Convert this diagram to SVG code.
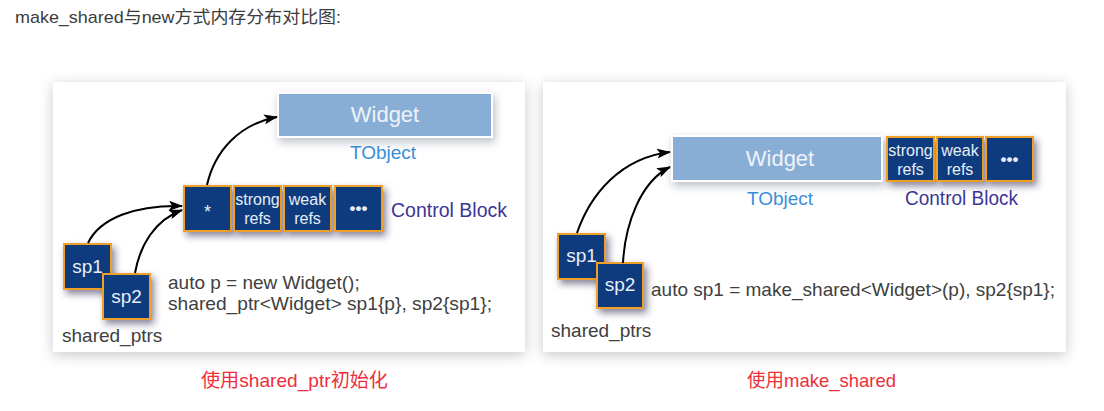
<svg xmlns="http://www.w3.org/2000/svg" width="1104" height="411" viewBox="0 0 1104 411">
<defs>
<filter id="panelShadow" x="-10%" y="-15%" width="120%" height="130%">
<feDropShadow dx="0" dy="3" stdDeviation="7" flood-color="#000" flood-opacity="0.22"/>
</filter>
<filter id="boxShadow" x="-30%" y="-30%" width="170%" height="170%">
<feDropShadow dx="3" dy="4" stdDeviation="3.5" flood-color="#2a1a4a" flood-opacity="0.55"/>
</filter>
<filter id="widgetShadow" x="-20%" y="-40%" width="140%" height="190%">
<feDropShadow dx="2" dy="4" stdDeviation="4" flood-color="#203050" flood-opacity="0.3"/>
</filter>
<marker id="arrow" viewBox="0 0 14 10" refX="13" refY="5" markerWidth="14" markerHeight="10" markerUnits="userSpaceOnUse" orient="auto">
<path d="M0,0 L14,5 L0,10 L3,5 Z" fill="#000"/>
</marker>
</defs>
<style>
text{font-family:"Liberation Sans","Noto Sans CJK SC",sans-serif}
.panel{fill:#fff;filter:url(#panelShadow)}
.cell{fill:#0b3a7e;stroke:#f0a028;stroke-width:2;filter:url(#boxShadow)}
.widget{fill:#89aed6;stroke:#fff;stroke-width:2;filter:url(#widgetShadow)}
.wt{fill:#eef3fa;font-size:22px;text-anchor:middle}
.ct{fill:#e8eef8;text-anchor:middle}
.lbl{fill:#3a8ed8;font-size:19px;text-anchor:middle}
.cb{fill:#3c3596;font-size:20px}
.code{fill:#404040;font-size:19px}
.sp{fill:#404040;font-size:19px}
.cap{fill:#ee2e3a;font-size:19px}
.conn path{fill:none;stroke:#000;stroke-width:2;marker-end:url(#arrow)}
</style>
<rect width="1104" height="411" fill="#fff"/>
<text x="15" y="23" textLength="326" lengthAdjust="spacingAndGlyphs" style="fill:#3c3c3c;font-size:17px">make_shared与new方式内存分布对比图:</text>

<g id="panel-left">
<rect class="panel" x="53" y="82" width="472" height="270"/>
</g>
<g id="panel-right">
<rect class="panel" x="543" y="82" width="523" height="270"/>
</g>

<!-- Left diagram -->
<g id="left-widget">
<rect class="widget" x="278" y="93" width="214" height="44"/>
<text class="wt" x="385" y="122">Widget</text>
<text class="lbl" x="383" y="159">TObject</text>
</g>
<g id="left-ptr">
<rect class="cell" x="184" y="186" width="47" height="45"/>
<text class="ct" x="207.5" y="218" style="font-size:18px">*</text>
</g>
<g id="left-strong">
<rect class="cell" x="234" y="186" width="47" height="45"/>
<text class="ct" x="257.5" y="205" style="font-size:16px">strong</text>
<text class="ct" x="257.5" y="224" style="font-size:16px">refs</text>
</g>
<g id="left-weak">
<rect class="cell" x="284" y="186" width="47" height="45"/>
<text class="ct" x="307.5" y="205" style="font-size:16px">weak</text>
<text class="ct" x="307.5" y="224" style="font-size:16px">refs</text>
</g>
<g id="left-more">
<rect class="cell" x="335" y="186" width="47" height="45"/>
<text class="ct" x="358.5" y="214" style="font-size:17px;font-weight:bold">•••</text>
</g>
<text class="cb" x="391" y="217" textLength="116" lengthAdjust="spacingAndGlyphs">Control Block</text>
<g id="left-sp1">
<rect class="cell" x="64" y="244" width="47" height="45"/>
<text class="ct" x="87.5" y="273" style="font-size:19px">sp1</text>
</g>
<g id="left-sp2">
<rect class="cell" x="103" y="274" width="47" height="45"/>
<text class="ct" x="126.5" y="303" style="font-size:19px">sp2</text>
</g>
<text class="sp" x="62" y="342">shared_ptrs</text>
<text class="code" x="168" y="289">auto p = new Widget();</text>
<text class="code" x="168" y="310" textLength="324" lengthAdjust="spacingAndGlyphs">shared_ptr&lt;Widget&gt; sp1{p}, sp2{sp1};</text>

<!-- Right diagram -->
<g id="right-widget">
<rect class="widget" x="672" y="136" width="210" height="45"/>
<text class="wt" x="780" y="166">Widget</text>
<text class="lbl" x="780" y="205">TObject</text>
</g>
<g id="right-strong">
<rect class="cell" x="887" y="137" width="47" height="44"/>
<text class="ct" x="910.5" y="156" style="font-size:16px">strong</text>
<text class="ct" x="910.5" y="175" style="font-size:16px">refs</text>
</g>
<g id="right-weak">
<rect class="cell" x="937" y="137" width="46" height="44"/>
<text class="ct" x="960" y="156" style="font-size:16px">weak</text>
<text class="ct" x="960" y="175" style="font-size:16px">refs</text>
</g>
<g id="right-more">
<rect class="cell" x="986" y="137" width="47" height="44"/>
<text class="ct" x="1009.5" y="165" style="font-size:17px;font-weight:bold">•••</text>
</g>
<text class="cb" x="905" y="205" textLength="113" lengthAdjust="spacingAndGlyphs">Control Block</text>
<g id="right-sp1">
<rect class="cell" x="558" y="234" width="47" height="45"/>
<text class="ct" x="581.5" y="262" style="font-size:19px">sp1</text>
</g>
<g id="right-sp2">
<rect class="cell" x="597" y="263" width="46" height="45"/>
<text class="ct" x="620" y="291" style="font-size:19px">sp2</text>
</g>
<text class="sp" x="551" y="337">shared_ptrs</text>
<text class="code" x="651" y="296" textLength="404" lengthAdjust="spacingAndGlyphs">auto sp1 = make_shared&lt;Widget&gt;(p), sp2{sp1};</text>

<g id="connectors" class="conn">
<path d="M88,243 C100,218 135,205 182,206"/>
<path d="M135,273 C140,245 155,220 182,210"/>
<path d="M207,185 C215,150 240,124 277,117"/>
<path d="M577,233 C590,195 620,158 670,152"/>
<path d="M623,263 C625,225 640,182 670,167"/>
</g>

<text class="cap" x="201" y="387" textLength="187" lengthAdjust="spacingAndGlyphs">使用shared_ptr初始化</text>
<text class="cap" x="747" y="387" textLength="149" lengthAdjust="spacingAndGlyphs">使用make_shared</text>
</svg>
